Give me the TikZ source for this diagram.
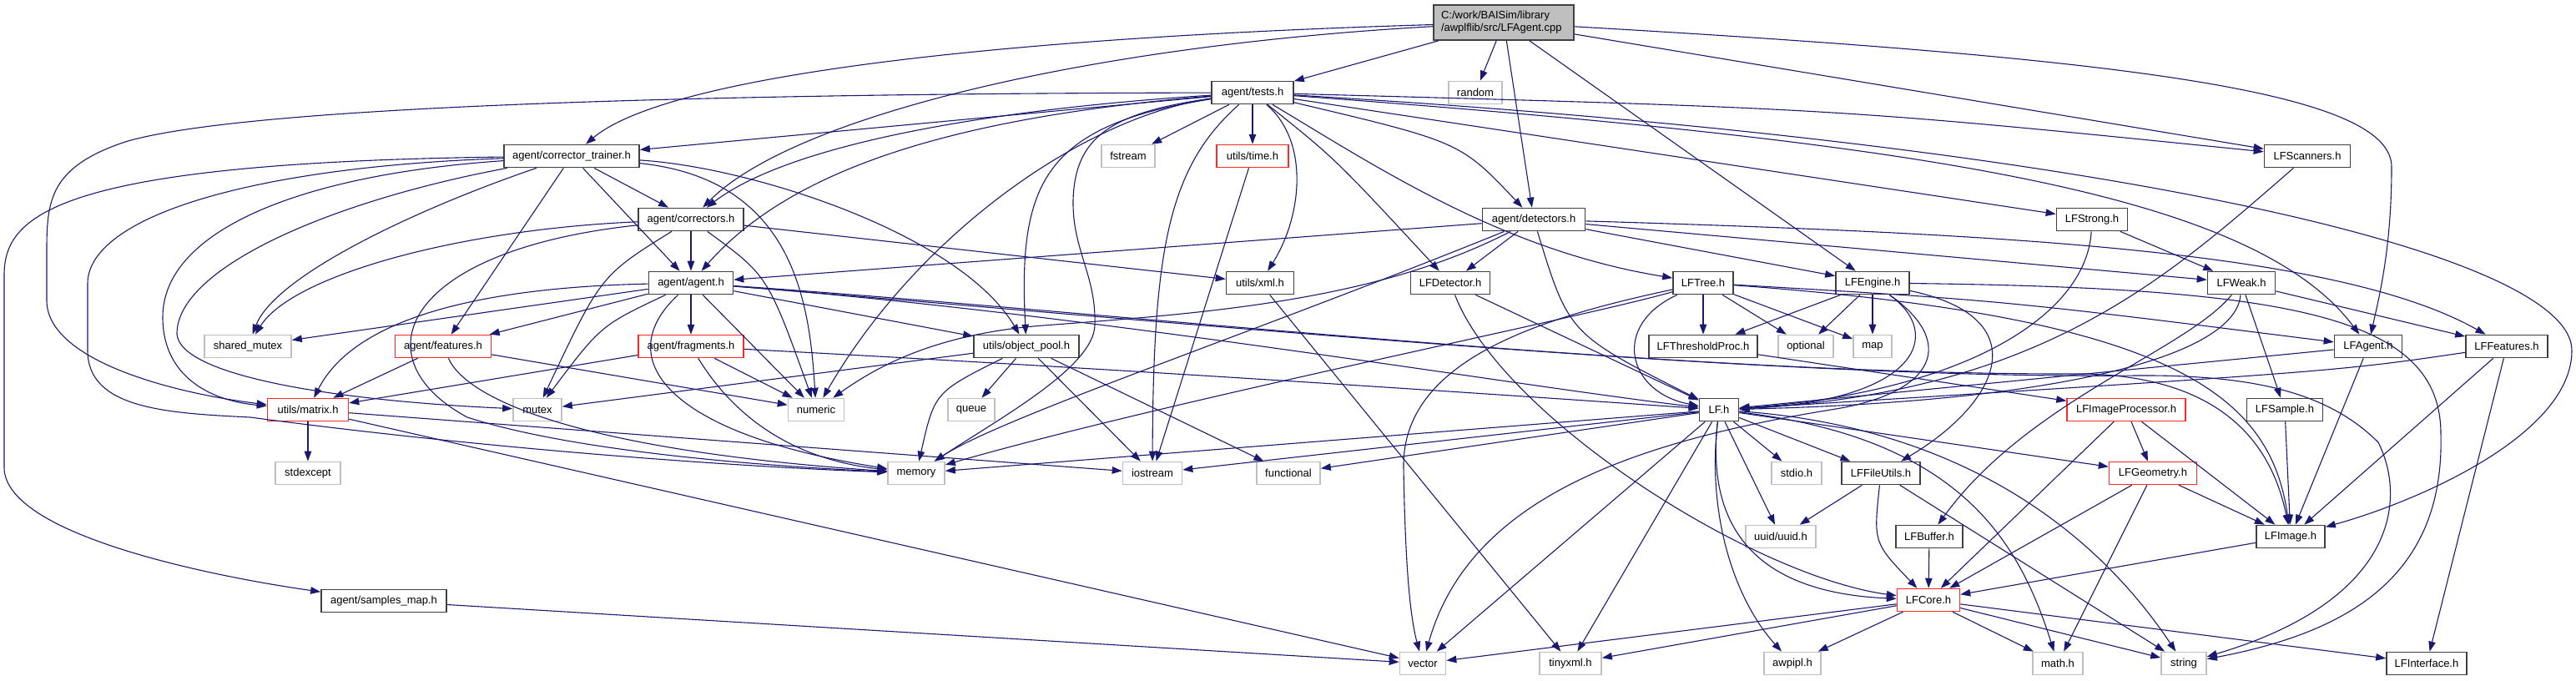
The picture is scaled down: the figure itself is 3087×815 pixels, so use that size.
\documentclass[tikz,border=0pt]{standalone}
\usepackage{fontspec}
\setmainfont{Liberation Sans}
\usetikzlibrary{arrows.meta}
\definecolor{edgeblue}{RGB}{25,25,112}
\definecolor{extgray}{RGB}{191,191,191}
\definecolor{docgray}{RGB}{64,64,64}
\definecolor{trunred}{RGB}{255,40,40}
\begin{document}
\begin{tikzpicture}[x=1pt,y=-1pt,
  nbase/.style={rectangle,fill=white,minimum height=27pt,inner xsep=2pt,inner ysep=0pt,
    font=\fontsize{13}{15}\selectfont,text=black},
  box/.style={nbase,draw=docgray,line width=1.7pt},
  ext/.style={nbase,draw=extgray,line width=1.7pt},
  redbox/.style={nbase,draw=trunred,line width=1.5pt},
  rootbox/.style={nbase,draw=docgray,fill=extgray,line width=1.7pt,minimum height=42pt,align=left},
  dep/.style={draw=edgeblue,line width=1.1pt,-{Triangle[length=12pt,width=8.5pt]}}]
\useasboundingbox (0,0) rectangle (3087,815);

% row 0
\node[rootbox,text width=150pt,minimum width=168pt] (root) at (1802,27) {C:/work/BAISim/library\\/awplflib/src/LFAgent.cpp};
% row 1
\node[box,minimum width=98pt] (tests) at (1501,111) {agent/tests.h};
\node[ext,minimum width=64pt] (random) at (1768,111) {random};
% row 2
\node[box,minimum width=162pt] (ctrain) at (685,187) {agent/corrector\_trainer.h};
\node[ext,minimum width=64pt] (fstream) at (1352,187) {fstream};
\node[redbox,minimum width=86pt] (timeh) at (1501,187) {utils/time.h};
\node[box,minimum width=103pt] (scanners) at (2765,187) {LFScanners.h};
% row 3
\node[box,minimum width=126pt] (corr) at (828,263) {agent/correctors.h};
\node[box,minimum width=123pt] (det) at (1838,263) {agent/detectors.h};
\node[box,minimum width=85pt] (strong) at (2507,263) {LFStrong.h};
% row 4
\node[box,minimum width=101pt] (agent) at (828,339) {agent/agent.h};
\node[box,minimum width=81pt] (xml) at (1510,339) {utils/xml.h};
\node[box,minimum width=95pt] (detector) at (1738,339) {LFDetector.h};
\node[box,minimum width=72pt] (tree) at (2041,339) {LFTree.h};
\node[box,minimum width=88pt] (engine) at (2244,339) {LFEngine.h};
\node[box,minimum width=81pt] (weak) at (2686,339) {LFWeak.h};
% row 5
\node[ext,minimum width=104pt] (smutex) at (297,415) {shared\_mutex};
\node[redbox,minimum width=115pt] (feat) at (531,415) {agent/features.h};
\node[redbox,minimum width=126pt] (frag) at (828,415) {agent/fragments.h};
\node[box,minimum width=126pt] (pool) at (1230,415) {utils/object\_pool.h};
\node[box,minimum width=130pt] (thr) at (2041,415) {LFThresholdProc.h};
\node[ext,minimum width=66pt] (optional) at (2164,415) {optional};
\node[ext,minimum width=46pt] (map) at (2244,415) {map};
\node[box,minimum width=81pt] (lfagent) at (2838,415) {LFAgent.h};
\node[box,minimum width=98pt] (lffeat) at (3004,415) {LFFeatures.h};
% row 6
\node[redbox,minimum width=97pt] (matrix) at (369,491) {utils/matrix.h};
\node[ext,minimum width=58pt] (mutex) at (644,491) {mutex};
\node[ext,minimum width=67pt] (numeric) at (978,491) {numeric};
\node[ext,minimum width=56pt] (queue) at (1164,491) {queue};
\node[box,minimum width=47pt] (lf) at (2060,491) {LF.h};
\node[redbox,minimum width=142pt] (improc) at (2548,491) {LFImageProcessor.h};
\node[box,minimum width=91pt] (sample) at (2738,491) {LFSample.h};
% row 7
\node[ext,minimum width=78pt] (stdexcept) at (369,567) {stdexcept};
\node[ext,minimum width=68pt] (memory) at (1098,567) {memory};
\node[ext,minimum width=71pt] (iostream) at (1381,567) {iostream};
\node[ext,minimum width=76pt] (functional) at (1544,567) {functional};
\node[ext,minimum width=60pt] (stdio) at (2153,567) {stdio.h};
\node[box,minimum width=94pt] (fileutils) at (2254,567) {LFFileUtils.h};
\node[redbox,minimum width=105pt] (geom) at (2580,567) {LFGeometry.h};
% row 8
\node[ext,minimum width=84pt] (uuid) at (2134,643) {uuid/uuid.h};
\node[box,minimum width=80pt] (buffer) at (2312,643) {LFBuffer.h};
\node[box,minimum width=82pt] (image) at (2745,643) {LFImage.h};
% row 9
\node[box,minimum width=150pt] (smap) at (460,720) {agent/samples\_map.h};
\node[redbox,minimum width=75pt] (core) at (2311,719) {LFCore.h};
% row 10
\node[ext,minimum width=55pt] (vector) at (1705,795) {vector};
\node[ext,minimum width=74pt] (tinyxml) at (1882,795) {tinyxml.h};
\node[ext,minimum width=68pt] (awpipl) at (2148,795) {awpipl.h};
\node[ext,minimum width=60pt] (math) at (2466,795) {math.h};
\node[ext,minimum width=54pt] (string) at (2617,795) {string};
\node[box,minimum width=96pt] (iface) at (2908,795) {LFInterface.h};

% ---------- edges ----------
% root
\draw[dep] (root) -- (tests);
\draw[dep] (root) -- (random);
\draw[dep] (root) -- (det);
\draw[dep] (root) .. controls (1200,45) and (800,90) .. (ctrain);
\draw[dep] (root) .. controls (1300,55) and (950,140) .. (corr);
\draw[dep] (root) -- (scanners);
\draw[dep] (root) -- (engine);
\draw[dep] (root) .. controls (2550,70) and (2866,110) .. (2866,200) .. controls (2866,300) and (2850,360) .. (lfagent);
% tests
\draw[dep] (tests) -- (fstream);
\draw[dep] (tests) -- (timeh);
\draw[dep] (tests) .. controls (1570,170) and (1560,260) .. (xml);
\draw[dep] (tests) .. controls (1600,190) .. (detector);
\draw[dep] (tests) .. controls (1650,200) and (1800,300) .. (tree);
\draw[dep] (tests) .. controls (1750,170) .. (det);
\draw[dep] (tests) -- (ctrain);
\draw[dep] (tests) .. controls (1200,130) and (950,170) .. (corr);
\draw[dep] (tests) .. controls (1150,140) and (950,200) .. (agent);
\draw[dep] (tests) .. controls (900,112) and (300,125) .. (150,170) .. controls (60,200) and (56,240) .. (56,300) -- (56,360) .. controls (56,430) and (200,470) .. (matrix);
\draw[dep] (tests) .. controls (1330,135) and (1288,165) .. (1286,240) .. controls (1285,300) and (1314,330) .. (1312,390) .. controls (1310,440) and (1200,500) .. (memory);
\draw[dep] (tests) .. controls (1300,140) and (1100,280) .. (numeric);
\draw[dep] (tests) .. controls (1400,200) and (1382,300) .. (iostream);
\draw[dep] (tests) .. controls (1250,150) and (1220,220) .. (pool);
\draw[dep] (tests) .. controls (2200,130) .. (scanners);
\draw[dep] (tests) .. controls (2300,170) and (2700,230) .. (lfagent);
\draw[dep] (tests) .. controls (2500,170) and (3082,300) .. (3082,420) .. controls (3082,520) and (2900,600) .. (image);
\draw[dep] (tests) -- (strong);
% corrector_trainer
\draw[dep] (ctrain) -- (corr);
\draw[dep] (ctrain) -- (agent);
\draw[dep] (ctrain) -- (feat);
\draw[dep] (ctrain) .. controls (500,250) and (330,330) .. (smutex);
\draw[dep] (ctrain) .. controls (60,195) and (5,260) .. (5,330) -- (5,560) .. controls (5,640) and (250,690) .. (smap);
\draw[dep] (ctrain) .. controls (300,200) and (105,260) .. (105,340) -- (105,420) .. controls (105,490) and (200,495) .. (300,500) .. controls (600,540) and (900,560) .. (memory);
\draw[dep] (ctrain) .. controls (350,210) and (195,280) .. (195,380) .. controls (195,450) and (250,480) .. (matrix);
\draw[dep] (ctrain) .. controls (400,240) and (212,320) .. (212,400) .. controls (215,450) and (400,480) .. (mutex);
\draw[dep] (ctrain) .. controls (900,200) and (1150,280) .. (pool);
\draw[dep] (ctrain) .. controls (950,215) and (970,360) .. (numeric);
% correctors
\draw[dep] (corr) -- (agent);
\draw[dep] (corr) .. controls (550,275) and (350,330) .. (smutex);
\draw[dep] (corr) .. controls (480,300) and (430,430) .. (560,500) .. controls (700,545) and (950,560) .. (memory);
\draw[dep] (corr) .. controls (720,330) .. (mutex);
\draw[dep] (corr) .. controls (920,330) .. (numeric);
\draw[dep] (corr) -- (xml);
% agent
\draw[dep] (agent) .. controls (550,345) and (420,390) .. (matrix);
\draw[dep] (agent) -- (smutex);
\draw[dep] (agent) -- (feat);
\draw[dep] (agent) -- (frag);
\draw[dep] (agent) .. controls (720,390) .. (mutex);
\draw[dep] (agent) .. controls (730,430) and (800,520) .. (memory);
\draw[dep] (agent) -- (numeric);
\draw[dep] (agent) -- (pool);
\draw[dep] (agent) .. controls (1300,375) and (1800,460) .. (lf);
\draw[dep] (agent) .. controls (1350,375) and (2000,450) .. (2500,448) .. controls (2650,452) and (2720,520) .. (image);
\draw[dep] (agent) .. controls (1350,380) and (2100,455) .. (2560,450) .. controls (2700,449) and (2790,470) .. (2850,530) .. controls (2885,600) and (2870,720) .. (string);
% features, fragments
\draw[dep] (feat) -- (matrix);
\draw[dep] (feat) -- (numeric);
\draw[dep] (feat) .. controls (560,480) and (700,540) .. (memory);
\draw[dep] (frag) -- (matrix);
\draw[dep] (frag) -- (numeric);
\draw[dep] (frag) .. controls (880,500) and (950,550) .. (memory);
\draw[dep] (frag) .. controls (1400,445) and (1900,480) .. (lf);
% matrix, samples_map, object_pool, time, xml
\draw[dep] (matrix) -- (stdexcept);
\draw[dep] (matrix) -- (iostream);
\draw[dep] (matrix) -- (vector);
\draw[dep] (smap) -- (vector);
\draw[dep] (pool) -- (queue);
\draw[dep] (pool) .. controls (1120,470) .. (memory);
\draw[dep] (pool) -- (iostream);
\draw[dep] (pool) -- (functional);
\draw[dep] (pool) -- (mutex);
\draw[dep] (timeh) -- (iostream);
\draw[dep] (xml) -- (tinyxml);
% detectors
\draw[dep] (det) -- (agent);
\draw[dep] (det) -- (detector);
\draw[dep] (det) .. controls (1650,360) and (1450,375) .. (1250,390) .. controls (1120,400) and (1050,440) .. (numeric);
\draw[dep] (det) .. controls (1500,400) and (1200,500) .. (memory);
\draw[dep] (det) .. controls (1880,400) .. (lf);
\draw[dep] (det) -- (engine);
\draw[dep] (det) -- (weak);
\draw[dep] (det) .. controls (2400,280) and (2800,300) .. (lffeat);
% LFDetector
\draw[dep] (detector) -- (lf);
\draw[dep] (detector) .. controls (1800,500) and (2100,690) .. (core);
% LFTree
\draw[dep] (tree) -- (thr);
\draw[dep] (tree) -- (optional);
\draw[dep] (tree) -- (map);
\draw[dep] (tree) .. controls (1930,390) and (1950,470) .. (lf);
\draw[dep] (tree) .. controls (1900,380) and (1400,480) .. (memory);
\draw[dep] (tree) .. controls (1850,380) and (1680,430) .. (1682,560) .. controls (1684,680) and (1690,740) .. (vector);
\draw[dep] (tree) .. controls (2400,360) .. (lfagent);
\draw[dep] (tree) .. controls (2600,380) and (2720,470) .. (image);
% LFEngine
\draw[dep] (engine) -- (thr);
\draw[dep] (engine) -- (optional);
\draw[dep] (engine) -- (map);
\draw[dep] (engine) .. controls (2330,400) and (2300,480) .. (lf);
\draw[dep] (engine) .. controls (2345,410) and (2320,470) .. (2200,490) .. controls (1950,530) and (1760,600) .. (vector);
\draw[dep] (engine) .. controls (2440,380) and (2400,480) .. (fileutils);
\draw[dep] (engine) .. controls (2750,345) and (2925,380) .. (2925,520) .. controls (2930,700) and (2800,760) .. (string);
% scanners, strong, weak
\draw[dep] (scanners) .. controls (2600,330) and (2450,470) .. (lf);
\draw[dep] (strong) -- (weak);
\draw[dep] (strong) .. controls (2500,380) and (2350,470) .. (lf);
\draw[dep] (weak) .. controls (2680,420) and (2500,480) .. (lf);
\draw[dep] (weak) .. controls (2620,420) and (2430,480) .. (buffer);
\draw[dep] (weak) -- (sample);
\draw[dep] (weak) -- (lffeat);
% LFAgent, LFFeatures, LFSample, threshold
\draw[dep] (lfagent) -- (lf);
\draw[dep] (lfagent) -- (image);
\draw[dep] (lffeat) .. controls (2800,445) .. (lf);
\draw[dep] (lffeat) -- (image);
\draw[dep] (lffeat) -- (iface);
\draw[dep] (sample) -- (image);
\draw[dep] (thr) -- (improc);
% LF.h
\draw[dep] (lf) -- (memory);
\draw[dep] (lf) -- (iostream);
\draw[dep] (lf) -- (functional);
\draw[dep] (lf) -- (vector);
\draw[dep] (lf) -- (tinyxml);
\draw[dep] (lf) -- (stdio);
\draw[dep] (lf) -- (uuid);
\draw[dep] (lf) -- (fileutils);
\draw[dep] (lf) -- (geom);
\draw[dep] (lf) .. controls (2040,670) and (2150,712) .. (core);
\draw[dep] (lf) .. controls (2045,620) and (2080,720) .. (awpipl);
\draw[dep] (lf) .. controls (2350,525) and (2420,650) .. (math);
\draw[dep] (lf) .. controls (2330,510) and (2500,620) .. (string);
% image processor, geometry, file utils, buffer, image
\draw[dep] (improc) -- (geom);
\draw[dep] (improc) -- (image);
\draw[dep] (improc) -- (core);
\draw[dep] (geom) -- (core);
\draw[dep] (geom) -- (math);
\draw[dep] (geom) -- (image);
\draw[dep] (fileutils) -- (uuid);
\draw[dep] (fileutils) .. controls (2245,650) .. (core);
\draw[dep] (fileutils) -- (string);
\draw[dep] (buffer) -- (core);
\draw[dep] (image) -- (core);
% LFCore
\draw[dep] (core) -- (vector);
\draw[dep] (core) -- (tinyxml);
\draw[dep] (core) -- (awpipl);
\draw[dep] (core) -- (math);
\draw[dep] (core) -- (string);
\draw[dep] (core) -- (iface);
\end{tikzpicture}
\end{document}
